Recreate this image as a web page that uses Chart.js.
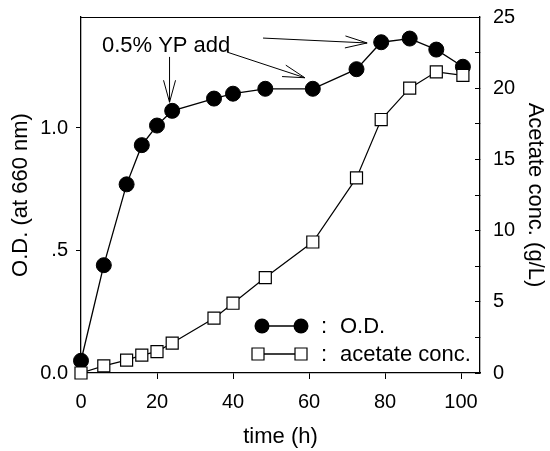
<!DOCTYPE html>
<html>
<head>
<meta charset="utf-8">
<script src="https://cdn.jsdelivr.net/npm/chart.js@4/dist/chart.umd.min.js"></script>
<style>
  html, body { margin: 0; padding: 0; background: #fff; }
</style>
</head>
<body>
<canvas id="myChart" width="550" height="451"></canvas>
<script>
// values
const timeH = [0, 6, 12, 16, 20, 24, 35, 40, 48.5, 61, 72.5, 79, 86.5, 93.5, 100.5];
const odValues = [0.05, 0.44, 0.77, 0.93, 1.01, 1.07, 1.12, 1.14, 1.16, 1.16, 1.24, 1.35, 1.365, 1.32, 1.25];
const acetateValues = [0, 0.5, 0.9, 1.25, 1.5, 2.1, 3.85, 4.9, 6.7, 9.2, 13.7, 17.8, 20.0, 21.15, 20.9];
const odTickLabels = { 0: '0.0', 0.5: '.5', 1: '1.0' };
const legendLabels = ['O.D.', 'acetate conc.'];

// annotation, in data units (time, O.D.)
const noteText = '0.5% YP add';
const notePos = [5.5, 1.31];
const arrows = [
  [[23.3, 1.29], [23.3, 1.105]],
  [[38.4, 1.31], [58.9, 1.205]],
  [[47.9, 1.367], [75.3, 1.347]]
];

const FONT = '"Liberation Sans", Arial, Helvetica, sans-serif';
Chart.defaults.font.family = FONT;
Chart.defaults.color = '#000';

const odPoints = timeH.map((t, i) => ({ x: t, y: odValues[i] }));
const acPoints = timeH.map((t, i) => ({ x: t, y: acetateValues[i] }));

// keep the plot box where the figure has it
function noPad(s) {
  s.paddingTop = 0; s.paddingBottom = 0; s.paddingLeft = 0; s.paddingRight = 0;
}

const extras = {
  id: 'extras',
  afterDraw(chart) {
    const ctx = chart.ctx;
    const a = chart.chartArea;
    const xs = chart.scales.x, ys = chart.scales.y;
    ctx.save();
    // top frame line
    ctx.strokeStyle = '#000';
    ctx.lineWidth = 1;
    ctx.beginPath();
    ctx.moveTo(a.left, a.top + 0.5);
    ctx.lineTo(a.right, a.top + 0.5);
    ctx.stroke();

    // annotation text
    ctx.fillStyle = '#000';
    ctx.font = '22px ' + FONT;
    ctx.textBaseline = 'alphabetic';
    ctx.fillText(noteText, xs.getPixelForValue(notePos[0]), ys.getPixelForValue(notePos[1]));

    // arrows with open heads
    ctx.lineWidth = 1;
    arrows.forEach(([p0, p1]) => {
      const x0 = xs.getPixelForValue(p0[0]), y0 = ys.getPixelForValue(p0[1]);
      const x1 = xs.getPixelForValue(p1[0]), y1 = ys.getPixelForValue(p1[1]);
      const ang = Math.atan2(y1 - y0, x1 - x0);
      const L = 22, W = 6;
      ctx.beginPath();
      ctx.moveTo(x0, y0);
      ctx.lineTo(x1, y1);
      const bx = x1 - L * Math.cos(ang), by = y1 - L * Math.sin(ang);
      ctx.moveTo(bx + W * Math.sin(ang), by - W * Math.cos(ang));
      ctx.lineTo(x1, y1);
      ctx.lineTo(bx - W * Math.sin(ang), by + W * Math.cos(ang));
      ctx.stroke();
    });

    // legend
    const rows = [
      { y: a.bottom - 47, x0: 262, x1: 301, style: 'circle' },
      { y: a.bottom - 19, x0: 258, x1: 301, style: 'rect' }
    ];
    ctx.font = '22px ' + FONT;
    ctx.textBaseline = 'middle';
    rows.forEach((r, i) => {
      ctx.lineWidth = 1.3;
      ctx.beginPath();
      ctx.moveTo(r.x0, r.y);
      ctx.lineTo(r.x1, r.y);
      ctx.stroke();
      [r.x0, r.x1].forEach(x => {
        ctx.beginPath();
        if (r.style === 'circle') {
          ctx.arc(x, r.y, 7.5, 0, Math.PI * 2);
          ctx.fillStyle = '#000';
          ctx.fill();
        } else {
          ctx.rect(x - 6, r.y - 6, 12, 12);
          ctx.fillStyle = '#fff';
          ctx.fill();
          ctx.lineWidth = 1.2;
          ctx.stroke();
        }
      });
      ctx.fillStyle = '#000';
      ctx.fillText(':', 321, r.y + 1);
      ctx.fillText(legendLabels[i], 340, r.y + 1);
    });
    ctx.restore();
  }
};

new Chart(document.getElementById('myChart'), {
  type: 'line',
  data: {
    datasets: [
      {
        label: 'O.D.',
        data: odPoints,
        yAxisID: 'y',
        borderColor: '#000',
        borderWidth: 1.3,
        pointStyle: 'circle',
        pointRadius: 7.5,
        pointBackgroundColor: '#000',
        pointBorderColor: '#000',
        pointBorderWidth: 1,
        tension: 0,
        clip: false,
        order: 2
      },
      {
        label: 'acetate conc.',
        data: acPoints,
        yAxisID: 'y2',
        borderColor: '#000',
        borderWidth: 1.2,
        pointStyle: 'rect',
        pointRadius: 8.5,
        pointBackgroundColor: '#fff',
        pointBorderColor: '#000',
        pointBorderWidth: 1.2,
        tension: 0,
        clip: false,
        order: 1
      }
    ]
  },
  options: {
    responsive: false,
    animation: false,
    devicePixelRatio: 1,
    layout: { padding: { top: 17, left: 0, right: 0, bottom: 0 } },
    plugins: { legend: { display: false }, tooltip: { enabled: false } },
    scales: {
      x: {
        type: 'linear',
        position: 'bottom',
        min: 0,
        max: 105,
        ticks: { stepSize: 20, includeBounds: false, font: { size: 20 }, padding: 11, maxRotation: 0 },
        grid: { drawOnChartArea: false, tickLength: 6, color: '#000', tickWidth: 1 },
        border: { color: '#000', width: 1.3 },
        title: { display: true, text: 'time (h)', font: { size: 22 }, padding: { top: 0, bottom: 1 } },
        afterFit: s => { s.height = 78; noPad(s); }
      },
      y: {
        position: 'left',
        min: 0,
        max: 1.453,
        ticks: {
          stepSize: 0.5, includeBounds: false, font: { size: 20 }, padding: 8,
          callback: v => odTickLabels[v] ?? ''
        },
        grid: { drawOnChartArea: false, tickLength: 5, color: '#000', tickWidth: 1 },
        border: { color: '#000', width: 1.3 },
        title: { display: true, text: 'O.D. (at 660 nm)', font: { size: 22 }, padding: { top: 8, bottom: 0 } },
        afterFit: s => { s.width = 81; noPad(s); }
      },
      y2: {
        position: 'right',
        min: 0,
        max: 25,
        ticks: {
          stepSize: 2.5, includeBounds: false, autoSkip: false, font: { size: 20 }, padding: 18,
          callback: v => (v % 5 === 0 ? String(v) : '')
        },
        grid: { drawOnChartArea: false, tickLength: -5, color: '#000', tickWidth: 1 },
        border: { color: '#000', width: 1.3 },
        title: { display: true, text: 'Acetate conc. (g/L)', font: { size: 22 }, padding: { top: 2, bottom: 0 } },
        afterFit: s => { s.width = 70; noPad(s); }
      }
    }
  },
  plugins: [extras]
});
</script>
</body>
</html>
